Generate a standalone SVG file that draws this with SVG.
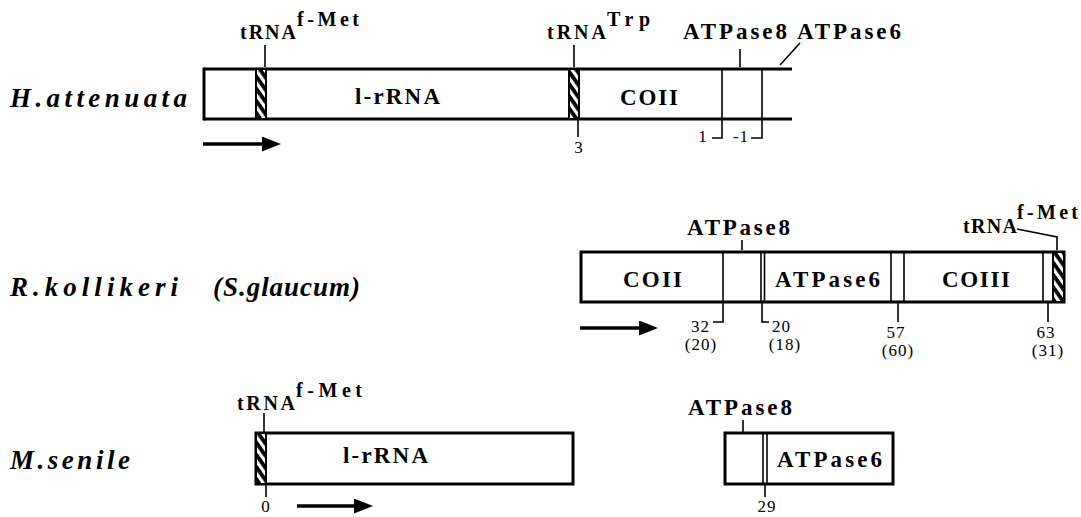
<svg xmlns="http://www.w3.org/2000/svg" width="1081" height="517" viewBox="0 0 1081 517">
<defs>
<pattern id="hatch" patternUnits="userSpaceOnUse" width="7" height="7" patternTransform="rotate(55)">
<rect width="7" height="7" fill="#fff"/>
<rect width="7" height="3.8" fill="#000"/>
</pattern>
<marker id="ah" markerUnits="userSpaceOnUse" markerWidth="20" markerHeight="16" refX="0" refY="7.5" orient="auto">
<path d="M0,0 L19,7.5 L0,15 Z" fill="#000"/>
</marker>
<style>
.box{fill:#fff;stroke:#000;stroke-width:3}
.edge{stroke:#000;stroke-width:3;fill:none}
.div{stroke:#000;stroke-width:1.6;fill:none}
.tick{stroke:#000;stroke-width:1.6;fill:none}
.hat{fill:url(#hatch);stroke:#000;stroke-width:2}
.arrow{stroke:#000;stroke-width:3.5;fill:none}
.sp{font-family:"Liberation Serif",serif;font-weight:bold;font-style:italic;font-size:27px;fill:#000}
.lb{font-family:"Liberation Serif",serif;font-weight:bold;font-size:23px;fill:#000}
.tr{font-family:"Liberation Serif",serif;font-weight:bold;font-size:20px;fill:#000}
.nm{font-family:"Liberation Serif",serif;font-size:17px;letter-spacing:1px;fill:#000}
</style>
</defs>
<rect width="1081" height="517" fill="#fff"/>

<!-- Row 1: H. attenuata -->
<g id="h-attenuata">
<text class="sp" x="10" y="107" textLength="177" lengthAdjust="spacing">H.attenuata</text>
<line class="edge" x1="204" y1="69" x2="792" y2="69"/>
<line class="edge" x1="204" y1="119" x2="792" y2="119"/>
<line class="edge" x1="204" y1="67.5" x2="204" y2="120.5"/>
<rect class="hat" x="256" y="69" width="10" height="50"/>
<rect class="hat" x="569" y="69" width="10" height="50"/>
<line class="div" x1="722" y1="69" x2="722" y2="119"/>
<line class="div" x1="762" y1="69" x2="762" y2="119"/>
<text class="lb" x="355" y="104" textLength="85" lengthAdjust="spacing">l-rRNA</text>
<text class="lb" x="620" y="105" textLength="58" lengthAdjust="spacing">COII</text>
</g>
<g id="h-attenuata-labels">
<text class="tr" x="240" y="39" textLength="56" lengthAdjust="spacing">tRNA</text>
<text class="tr" x="297" y="26" textLength="62" lengthAdjust="spacing">f-Met</text>
<text class="tr" x="547" y="39" textLength="59" lengthAdjust="spacing">tRNA</text>
<text class="tr" x="607" y="26" textLength="43" lengthAdjust="spacing">Trp</text>
<text class="lb" x="683" y="39" textLength="104" lengthAdjust="spacing">ATPase8</text>
<text class="lb" x="797" y="39" textLength="104" lengthAdjust="spacing">ATPase6</text>
<text class="nm" x="579" y="153" text-anchor="middle">3</text>
<text class="nm" x="703" y="142" text-anchor="middle">1</text>
<text class="nm" x="741" y="142" text-anchor="middle">-1</text>
</g>

<!-- Row 2: R. kollikeri -->
<g id="r-kollikeri">
<text class="sp" x="10" y="296" textLength="168" lengthAdjust="spacing">R.kollikeri</text>
<text class="sp" x="213" y="296" textLength="147" lengthAdjust="spacing">(S.glaucum)</text>
<rect class="box" x="581" y="252" width="483" height="50"/>
<line class="div" x1="723" y1="252" x2="723" y2="302"/>
<line class="div" x1="761" y1="252" x2="761" y2="302"/>
<line class="div" x1="764.5" y1="252" x2="764.5" y2="302"/>
<line class="div" x1="891" y1="252" x2="891" y2="302"/>
<line class="div" x1="904" y1="252" x2="904" y2="302"/>
<line class="div" x1="1043" y1="252" x2="1043" y2="302"/>
<rect class="hat" x="1053" y="252" width="11" height="50"/>
<text class="lb" x="623" y="287" textLength="59" lengthAdjust="spacing">COII</text>
<text class="lb" x="775" y="287" textLength="105" lengthAdjust="spacing">ATPase6</text>
<text class="lb" x="942" y="287" textLength="68" lengthAdjust="spacing">COIII</text>
</g>
<g id="r-kollikeri-labels">
<text class="lb" x="687" y="235" textLength="103" lengthAdjust="spacing">ATPase8</text>
<text class="tr" x="963" y="233" textLength="54" lengthAdjust="spacing">tRNA</text>
<text class="tr" x="1017" y="219" textLength="61" lengthAdjust="spacing">f-Met</text>
<text class="nm" x="710" y="332" text-anchor="end">32</text>
<text class="nm" x="701" y="350" text-anchor="middle">(20)</text>
<text class="nm" x="772" y="332">20</text>
<text class="nm" x="785" y="350" text-anchor="middle">(18)</text>
<text class="nm" x="896" y="338" text-anchor="middle">57</text>
<text class="nm" x="898" y="356" text-anchor="middle">(60)</text>
<text class="nm" x="1046" y="338" text-anchor="middle">63</text>
<text class="nm" x="1048" y="356" text-anchor="middle">(31)</text>
</g>

<!-- Row 3: M. senile -->
<g id="m-senile">
<text class="sp" x="10" y="469" textLength="120" lengthAdjust="spacing">M.senile</text>
<rect class="box" x="256" y="433" width="317" height="51"/>
<rect class="hat" x="256" y="433" width="10" height="51"/>
<text class="lb" x="343" y="463" textLength="85" lengthAdjust="spacing">l-rRNA</text>
</g>
<g id="m-senile-atpase">
<rect class="box" x="725" y="433" width="168" height="51"/>
<line class="div" x1="763" y1="433" x2="763" y2="484"/>
<line class="div" x1="767" y1="433" x2="767" y2="484"/>
<text class="lb" x="777" y="467" textLength="105" lengthAdjust="spacing">ATPase6</text>
</g>
<g id="m-senile-labels">
<text class="tr" x="237" y="410" textLength="58" lengthAdjust="spacing">tRNA</text>
<text class="tr" x="296" y="397" textLength="66" lengthAdjust="spacing">f-Met</text>
<text class="lb" x="688" y="415" textLength="104" lengthAdjust="spacing">ATPase8</text>
<text class="nm" x="266" y="512" text-anchor="middle">0</text>
<text class="nm" x="767" y="512" text-anchor="middle">29</text>
</g>

<!-- Connectors: leader ticks and direction arrows -->
<g id="connectors">
<line class="tick" x1="265" y1="45" x2="265" y2="67"/>
<line class="tick" x1="574" y1="45" x2="574" y2="67"/>
<polyline class="tick" points="578,120 578,137"/>
<polyline class="tick" points="722,119 722,138 712,138"/>
<polyline class="tick" points="762,119 762,138 751,138"/>
<line class="tick" x1="740" y1="49" x2="740" y2="67"/>
<line class="tick" x1="800" y1="43" x2="780" y2="65"/>
<line class="arrow" x1="203" y1="144" x2="262" y2="144" marker-end="url(#ah)"/>

<line class="tick" x1="742" y1="240" x2="742" y2="250"/>
<polyline class="tick" points="1017,229 1057,237 1057,250"/>
<polyline class="tick" points="723,302 723,322 713,322"/>
<polyline class="tick" points="762,302 762,322 769,322"/>
<line class="tick" x1="898" y1="302" x2="898" y2="322"/>
<line class="tick" x1="1048" y1="302" x2="1048" y2="322"/>
<line class="arrow" x1="580" y1="328" x2="639" y2="328" marker-end="url(#ah)"/>

<line class="tick" x1="264" y1="413" x2="264" y2="432"/>
<line class="tick" x1="266" y1="484" x2="266" y2="497"/>
<line class="tick" x1="743" y1="420" x2="743" y2="432"/>
<line class="tick" x1="765" y1="484" x2="765" y2="497"/>
<line class="arrow" x1="297" y1="506" x2="354" y2="506" marker-end="url(#ah)"/>
</g>
</svg>
